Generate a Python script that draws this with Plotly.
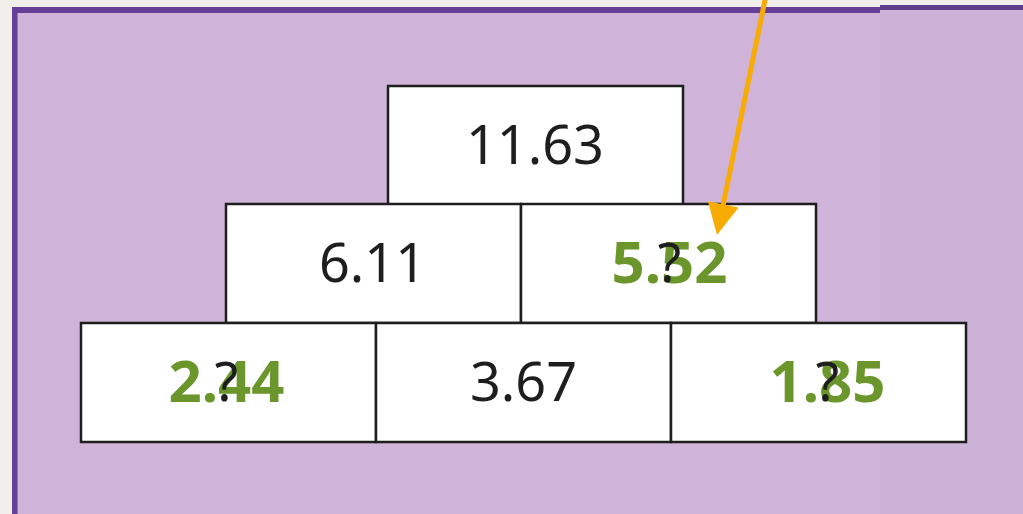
import plotly.graph_objects as go

# Pyramid data: rows from top (0) to bottom (2), column index within row
rows = [0, 1, 1, 2, 2, 2]
cols = [0, 0, 1, 0, 1, 2]
given = ["11.63", "6.11", "?", "?", "3.67", "?"]
answers = ["", "", "5.52", "2.44", "", "1.85"]

W, H = 1023, 514
BOX_W, BOX_H = 295, 119
ROW_LEFT = [388, 226, 81]     # layout: left edge of each row
ROW_TOP = [86, 204, 323]      # layout: top edge of each row
TEXT_DX = [-0.5, -1, 1, -2, 0, 9]   # layout: small text shift inside each box

def box_geom(r, c):
    x0 = ROW_LEFT[r] + c * BOX_W
    y0 = ROW_TOP[r]
    return x0, y0, x0 + BOX_W, y0 + BOX_H

shapes = []
shapes.append(dict(type="rect", xref="x", yref="y", x0=0, y0=0, x1=W, y1=H,
                   fillcolor="#f1efec", line_width=0, layer="below"))
shapes.append(dict(type="rect", xref="x", yref="y", x0=12, y0=7, x1=880, y1=H + 10,
                   fillcolor="#cfb3d9", line_width=0, layer="below"))
shapes.append(dict(type="rect", xref="x", yref="y", x0=12, y0=7, x1=880, y1=13,
                   fillcolor="#673f98", line_width=0, layer="below"))
shapes.append(dict(type="rect", xref="x", yref="y", x0=12, y0=7, x1=17.5, y1=H + 10,
                   fillcolor="#673f98", line_width=0, layer="below"))
shapes.append(dict(type="rect", xref="x", yref="y", x0=880, y0=5, x1=W + 5, y1=H + 10,
                   fillcolor="#cdb2d8", line_width=0, layer="below"))
shapes.append(dict(type="rect", xref="x", yref="y", x0=880, y0=5, x1=W + 5, y1=10,
                   fillcolor="#5f3d8e", line_width=0, layer="below"))

xs, ys = [], []
for i, (r, c) in enumerate(zip(rows, cols)):
    x0, y0, x1, y1 = box_geom(r, c)
    shapes.append(dict(type="rect", xref="x", yref="y", x0=x0, y0=y0, x1=x1, y1=y1,
                       fillcolor="white", line=dict(color="#1e1e1e", width=2.5),
                       layer="below"))
    xs.append((x0 + x1) / 2 + TEXT_DX[i])
    ys.append((y0 + y1) / 2)

fig = go.Figure()

# green answers (bold)
ax_x = [x for x, a in zip(xs, answers) if a]
ax_y = [y for y, a in zip(ys, answers) if a]
fig.add_trace(go.Scatter(
    x=ax_x, y=[y + 5 for y in ax_y], mode="text",
    text=[a for a in answers if a],
    textfont=dict(family="Noto Sans", size=58, color="#6a962b", weight="bold"),
    hoverinfo="skip", showlegend=False))

# given values and question marks (black)
fig.add_trace(go.Scatter(
    x=xs, y=[y + 5 for y in ys], mode="text", text=given,
    textfont=dict(family="Noto Sans", size=54, color="#1e1e1e"),
    hoverinfo="skip", showlegend=False))

# orange arrow pointing to the answer
annotations = [dict(x=717, y=235, ax=766, ay=-5, xref="x", yref="y",
                    axref="x", ayref="y", text="", showarrow=True,
                    arrowhead=2, arrowsize=1.25, arrowwidth=5,
                    arrowcolor="#f8ab00")]

fig.update_layout(
    width=W, height=H, margin=dict(l=0, r=0, t=0, b=0),
    paper_bgcolor="#f1efec", plot_bgcolor="#f1efec",
    shapes=shapes, annotations=annotations,
    xaxis=dict(range=[0, W], visible=False, fixedrange=True),
    yaxis=dict(range=[H, 0], visible=False, fixedrange=True),
)

fig.write_html("out.html", config={"displayModeBar": False},
               post_script="document.body.style.margin='0';")
